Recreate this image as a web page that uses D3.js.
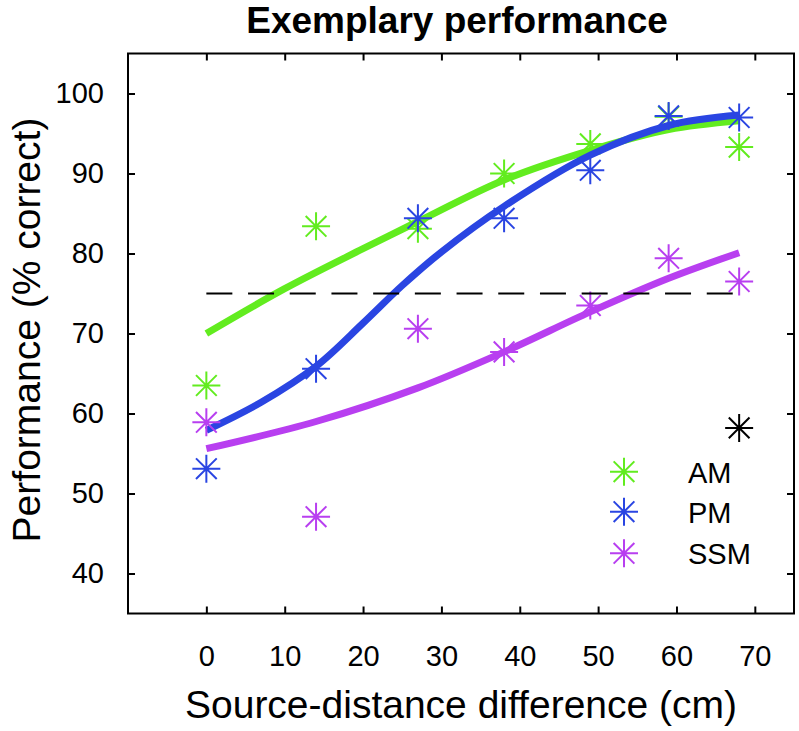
<!DOCTYPE html>
<html>
<head>
<meta charset="utf-8">
<script src="https://cdn.jsdelivr.net/npm/d3@7"></script>
<style>
  html, body { margin: 0; padding: 0; background: #fff; }
  svg { display: block; }
  text { font-family: "Liberation Sans", Arial, Helvetica, sans-serif; fill: #000; }
</style>
</head>
<body>
<svg id="chart" width="799" height="731"></svg>
<script>
// ---------------- data ----------------
const xValues = [0, 14, 27, 38, 49, 59, 68];
const amValues  = [63.5, 83.4, 83.1, 90.0, 93.7, 97.1, 93.3];
const pmValues  = [53.1, 65.6, 84.4, 84.4, 90.4, 97.2, 97.0];
const ssmValues = [58.9, 47.1, 70.6, 67.7, 73.5, 79.4, 76.5];

// fitted curves
const amFitX  = [0, 10, 20, 27, 38, 49, 59, 68];
const amFitY  = [70.0, 75.6, 80.6, 84.0, 89.2, 92.9, 95.5, 96.6];
const pmFitX  = [0, 7, 14, 20, 25, 30, 38, 49, 59, 68];
const pmFitY  = [57.9, 61.4, 65.9, 71.3, 76.0, 80.2, 85.9, 92.3, 96.0, 97.3];
const ssmFitX = [0, 14, 27, 38, 49, 59, 68];
const ssmFitY = [55.6, 59.0, 63.2, 67.7, 72.7, 76.9, 80.1];

const thresholdX = [0, 68];
const thresholdY = [75, 75];

const markX = [68];
const markY = [58.2];

const seriesNames = ["AM", "PM", "SSM"];
const seriesColors = ["#62ec1f", "#2a45e2", "#b83ff0"];

const xTicks = [0, 10, 20, 30, 40, 50, 60, 70];
const yTicks = [40, 50, 60, 70, 80, 90, 100];

const titleText = "Exemplary performance";
const xLabelText = "Source-distance difference (cm)";
const yLabelText = "Performance (% correct)";

// ---------------- layout ----------------
(function () {
const svg = d3.select("#chart");
const pLeft = 128, pRight = 794, pTop = 53.5, pBottom = 613.5;

const x = d3.scaleLinear().domain([-10, 75]).range([pLeft, pRight]);
const y = d3.scaleLinear().domain([35, 105]).range([pBottom, pTop]);

const starPath = (r) => {
  const d = r * 0.74;
  return `M${-r},0L${r},0M0,${-r}L0,${r}M${-d},${-d}L${d},${d}M${-d},${d}L${d},${-d}`;
};

// axes (ticks inward)
const fontTick = 29;
const gx = svg.append("g").attr("transform", `translate(0,${pBottom})`)
  .call(d3.axisBottom(x).tickValues(xTicks).tickSize(-7).tickPadding(32).tickFormat(d3.format("d")));
const gxTop = svg.append("g").attr("transform", `translate(0,${pTop})`)
  .call(d3.axisTop(x).tickValues(xTicks).tickSize(-7).tickFormat(""));
const gy = svg.append("g").attr("transform", `translate(${pLeft},0)`)
  .call(d3.axisLeft(y).tickValues(yTicks).tickSize(-7).tickPadding(24).tickFormat(d3.format("d")));
const gyR = svg.append("g").attr("transform", `translate(${pRight},0)`)
  .call(d3.axisRight(y).tickValues(yTicks).tickSize(-7).tickFormat(""));

[gx, gxTop, gy, gyR].forEach(g => {
  g.select(".domain").remove();
  g.selectAll(".tick line").attr("stroke", "#000").attr("stroke-width", 2);
  g.selectAll(".tick text").attr("font-size", fontTick)
    .attr("font-family", '"Liberation Sans", Arial, sans-serif').attr("fill", "#000");
});

// frame
svg.append("rect")
  .attr("x", pLeft).attr("y", pTop)
  .attr("width", pRight - pLeft).attr("height", pBottom - pTop)
  .attr("fill", "none").attr("stroke", "#000").attr("stroke-width", 2);

// series
const pointSets = [amValues, pmValues, ssmValues];
const fitSets = [[amFitX, amFitY], [pmFitX, pmFitY], [ssmFitX, ssmFitY]];
const line = d3.line().x(d => x(d[0])).y(d => y(d[1])).curve(d3.curveCatmullRom.alpha(0.5));

const plot = svg.append("g");
seriesNames.forEach((name, i) => {
  plot.append("g").selectAll("path")
    .data(xValues.map((xv, j) => [xv, pointSets[i][j]]))
    .join("path")
    .attr("transform", d => `translate(${x(d[0])},${y(d[1])})`)
    .attr("d", starPath(14))
    .attr("fill", "none")
    .attr("stroke", seriesColors[i])
    .attr("stroke-width", 2);
  const fx = fitSets[i][0], fy = fitSets[i][1];
  plot.append("path")
    .datum(fx.map((v, j) => [v, fy[j]]))
    .attr("d", line)
    .attr("fill", "none")
    .attr("stroke", seriesColors[i])
    .attr("stroke-width", 7)
    .attr("stroke-linecap", "butt");
});

// threshold dashed line
plot.append("path")
  .datum(thresholdX.map((v, j) => [v, thresholdY[j]]))
  .attr("d", d3.line().x(d => x(d[0])).y(d => y(d[1])))
  .attr("stroke", "#000").attr("stroke-width", 2)
  .attr("stroke-dasharray", "26,15.7").attr("fill", "none");

// black marker
plot.selectAll(".mark")
  .data(markX.map((v, j) => [v, markY[j]]))
  .join("path")
  .attr("class", "mark")
  .attr("transform", d => `translate(${x(d[0])},${y(d[1])})`)
  .attr("d", starPath(14))
  .attr("fill", "none").attr("stroke", "#000").attr("stroke-width", 2);

// legend
const legend = svg.append("g").attr("transform", "translate(624,471.7)");
const legendGap = [0, 40, 81.6];
seriesNames.forEach((name, i) => {
  const g = legend.append("g").attr("transform", `translate(0,${legendGap[i]})`);
  g.append("path").attr("d", starPath(14)).attr("fill", "none")
    .attr("stroke", seriesColors[i]).attr("stroke-width", 2);
  g.append("text").attr("x", 64).attr("y", 11).attr("font-size", 29).text(name);
});

// titles
svg.append("text").attr("x", 457).attr("y", 33).attr("text-anchor", "middle")
  .attr("font-size", 37).attr("font-weight", "bold").text(titleText);
svg.append("text").attr("x", 461).attr("y", 718).attr("text-anchor", "middle")
  .attr("font-size", 39).text(xLabelText);
svg.append("text").attr("transform", "translate(40,330) rotate(-90)")
  .attr("text-anchor", "middle").attr("font-size", 39).text(yLabelText);
})();
</script>
</body>
</html>
